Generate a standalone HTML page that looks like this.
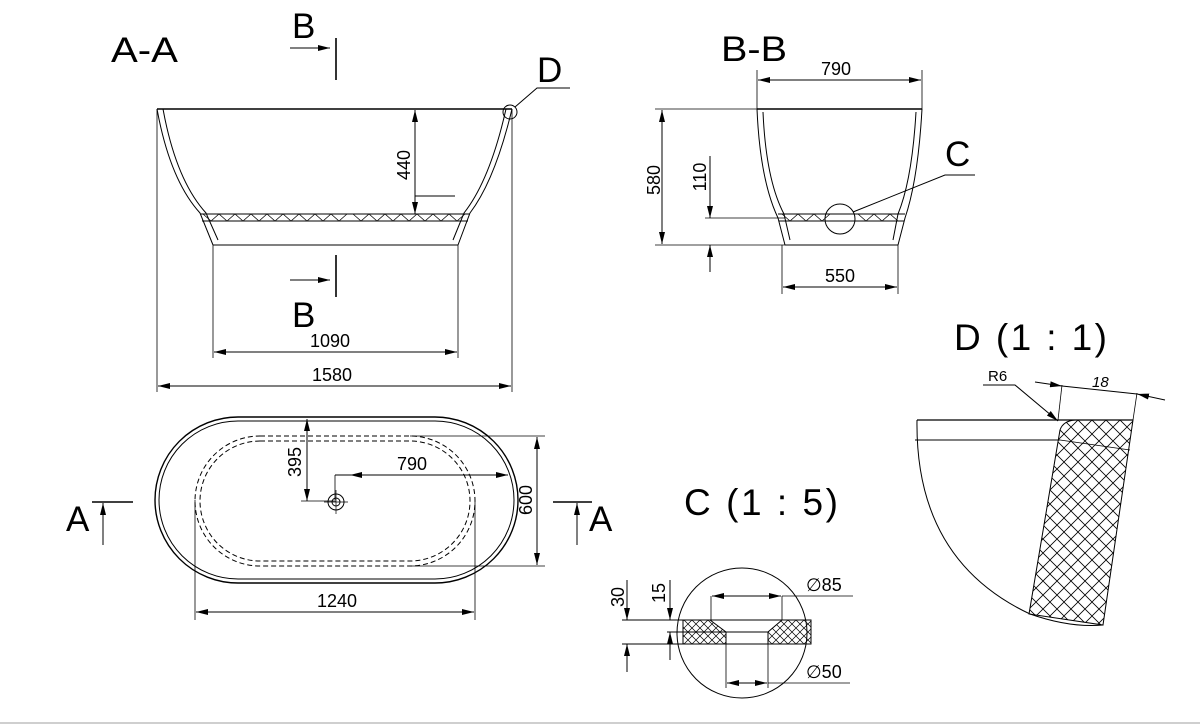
<!DOCTYPE html>
<html><head><meta charset="utf-8"><style>
html,body{margin:0;padding:0;background:#fff;}
svg{display:block;}
text{font-family:"Liberation Sans",sans-serif;fill:#000;}
</style></head><body>
<svg width="1200" height="724" viewBox="0 0 1200 724" xmlns="http://www.w3.org/2000/svg">
<defs>
<pattern id="hx" width="14" height="14" patternUnits="userSpaceOnUse">
<path d="M0,0L14,14M14,0L0,14" stroke="#000" stroke-width="0.8"/>
</pattern>
<pattern id="hs" width="8" height="8" patternUnits="userSpaceOnUse">
<path d="M0,0L8,8M8,0L0,8" stroke="#000" stroke-width="0.7"/>
</pattern>
<marker id="ar" viewBox="0 0 12 6" refX="12" refY="3" markerWidth="12" markerHeight="6" orient="auto-start-reverse" markerUnits="userSpaceOnUse">
<path d="M0,0L12,3L0,6z" fill="#000"/>
</marker>
</defs>
<rect x="0" y="722" width="1200" height="2" fill="#cfcfcf"/>
<g fill="none" stroke="#000" stroke-width="1">
<!-- A-A section -->
<line x1="157" y1="109" x2="512" y2="109" stroke-width="1.6"/>
<path d="M157,109 Q170,180 200,213 L213,245"/>
<path d="M163,109 Q176,180 206,213 L218,240"/>
<path d="M512,109 Q495,180 470,213 L458,245"/>
<path d="M506,109 Q490,180 464,213 L453,240"/>
<line x1="200" y1="214" x2="470" y2="214"/>
<line x1="202" y1="221" x2="468" y2="221"/>
<path d="M203,214 l8,7 l8,-7 l8,7 l8,-7 l8,7 l8,-7 l8,7 l8,-7 l8,7 l8,-7 l8,7 l8,-7 l8,7 l8,-7 l8,7 l8,-7 l8,7 l8,-7 M353,214 l8,7 l8,-7 l8,7 l8,-7 l8,7 l8,-7 l8,7 l8,-7 l8,7 l8,-7 l8,7 l8,-7 l8,7 l8,-7" stroke-width="0.7"/>
<line x1="213" y1="245" x2="458" y2="245"/>
<line x1="157" y1="109" x2="157" y2="392" stroke-width="0.8"/>
<line x1="512" y1="109" x2="512" y2="392" stroke-width="0.8"/>
<line x1="213" y1="245" x2="213" y2="358" stroke-width="0.8"/>
<line x1="458" y1="245" x2="458" y2="358" stroke-width="0.8"/>
<line x1="158" y1="386" x2="511" y2="386" marker-start="url(#ar)" marker-end="url(#ar)"/>
<line x1="214" y1="352" x2="457" y2="352" marker-start="url(#ar)" marker-end="url(#ar)"/>
<line x1="415" y1="110" x2="415" y2="214" marker-start="url(#ar)" marker-end="url(#ar)"/>
<line x1="415" y1="196" x2="455" y2="196"/>
<line x1="290" y1="48" x2="330" y2="48" marker-end="url(#ar)"/>
<line x1="336" y1="38" x2="336" y2="80" stroke-width="1.6"/>
<line x1="290" y1="280" x2="330" y2="280" marker-end="url(#ar)"/>
<line x1="336" y1="255" x2="336" y2="297" stroke-width="1.6"/>
<circle cx="510" cy="112" r="7"/>
<path d="M515,107 L537,88 L570,88"/>
<!-- B-B section -->
<line x1="757" y1="109" x2="922" y2="109" stroke-width="1.6"/>
<path d="M757,109 Q760,180 778,218 L785,245"/>
<path d="M763,112 Q766,180 784,214 L790,240"/>
<path d="M922,109 Q918,180 905,218 L898,245"/>
<path d="M916,112 Q912,180 898,214 L893,240"/>
<line x1="778" y1="214" x2="905" y2="214"/>
<line x1="779" y1="221" x2="904" y2="221"/>
<path d="M782,214 l8,7 l8,-7 l8,7 l8,-7 l8,7 l8,-7 M858,214 l8,7 l8,-7 l8,7 l8,-7 l8,7" stroke-width="0.7"/>
<line x1="785" y1="245" x2="898" y2="245"/>
<line x1="757" y1="70" x2="757" y2="109" stroke-width="0.8"/>
<line x1="922" y1="70" x2="922" y2="109" stroke-width="0.8"/>
<line x1="758" y1="80" x2="921" y2="80" marker-start="url(#ar)" marker-end="url(#ar)"/>
<line x1="655" y1="109" x2="757" y2="109" stroke-width="0.8"/>
<line x1="655" y1="245" x2="785" y2="245" stroke-width="0.8"/>
<line x1="662" y1="110" x2="662" y2="244" marker-start="url(#ar)" marker-end="url(#ar)"/>
<line x1="705" y1="218" x2="785" y2="218" stroke-width="0.8"/>
<line x1="710" y1="156" x2="710" y2="218" marker-end="url(#ar)"/>
<line x1="710" y1="272" x2="710" y2="245" marker-end="url(#ar)"/>
<line x1="782" y1="245" x2="782" y2="294" stroke-width="0.8"/>
<line x1="898" y1="245" x2="898" y2="294" stroke-width="0.8"/>
<line x1="783" y1="287" x2="897" y2="287" marker-start="url(#ar)" marker-end="url(#ar)"/>
<circle cx="840" cy="219" r="15"/>
<path d="M853,212 L945,175 L975,175"/>
<!-- Plan view -->
<rect x="155" y="417" width="363" height="166" rx="83" ry="83" stroke-width="1.4"/>
<rect x="159" y="421" width="355" height="158" rx="79" ry="79"/>
<rect x="195" y="436" width="280" height="130" rx="65" ry="65" stroke-dasharray="5,3"/>
<rect x="200" y="441" width="270" height="120" rx="60" ry="60" stroke-dasharray="5,3"/>
<circle cx="336" cy="502" r="8"/>
<circle cx="336" cy="502" r="4"/>
<line x1="324" y1="502" x2="348" y2="502" stroke-width="0.7"/>
<line x1="336" y1="490" x2="336" y2="514" stroke-width="0.7"/>
<line x1="307" y1="419" x2="307" y2="501" marker-start="url(#ar)" marker-end="url(#ar)"/>
<line x1="301" y1="501" x2="336" y2="501" stroke-width="0.8"/>
<line x1="335" y1="475" x2="335" y2="500" stroke-width="0.8"/>
<line x1="335" y1="475" x2="508" y2="475" marker-end="url(#ar)"/>
<line x1="350" y1="475" x2="356" y2="475" marker-start="url(#ar)"/>
<line x1="410" y1="436" x2="545" y2="436" stroke-width="0.8"/>
<line x1="410" y1="566" x2="545" y2="566" stroke-width="0.8"/>
<line x1="537" y1="437" x2="537" y2="565" marker-start="url(#ar)" marker-end="url(#ar)"/>
<line x1="195" y1="500" x2="195" y2="620" stroke-width="0.8"/>
<line x1="475" y1="500" x2="475" y2="620" stroke-width="0.8"/>
<line x1="196" y1="612" x2="474" y2="612" marker-start="url(#ar)" marker-end="url(#ar)"/>
<line x1="92" y1="502" x2="133" y2="502" stroke-width="1.4"/>
<line x1="103" y1="545" x2="103" y2="503" marker-end="url(#ar)"/>
<line x1="553" y1="502" x2="592" y2="502" stroke-width="1.4"/>
<line x1="577" y1="545" x2="577" y2="503" marker-end="url(#ar)"/>
<!-- C detail -->
<circle cx="742" cy="633" r="65"/>
<path d="M683,620 L710,620 L726,632 L726,644 L683,644 Z" fill="url(#hs)"/>
<path d="M811,620 L782,620 L768,632 L768,644 L811,644 Z" fill="url(#hs)"/>
<line x1="622" y1="620" x2="811" y2="620"/>
<line x1="622" y1="644" x2="811" y2="644"/>
<line x1="667" y1="632" x2="768" y2="632"/>
<line x1="711" y1="596" x2="711" y2="620" stroke-width="0.8"/>
<line x1="782" y1="596" x2="782" y2="620" stroke-width="0.8"/>
<line x1="712" y1="596" x2="781" y2="596" marker-start="url(#ar)" marker-end="url(#ar)"/>
<line x1="782" y1="596" x2="853" y2="596" stroke-width="0.8"/>
<line x1="726" y1="632" x2="726" y2="688" stroke-width="0.8"/>
<line x1="768" y1="632" x2="768" y2="688" stroke-width="0.8"/>
<line x1="727" y1="683" x2="767" y2="683" marker-start="url(#ar)" marker-end="url(#ar)"/>
<line x1="768" y1="683" x2="850" y2="683" stroke-width="0.8"/>
<line x1="627" y1="580" x2="627" y2="620" marker-end="url(#ar)"/>
<line x1="627" y1="672" x2="627" y2="644" marker-end="url(#ar)"/>
<line x1="670" y1="580" x2="670" y2="620" marker-end="url(#ar)"/>
<line x1="670" y1="660" x2="670" y2="632" marker-end="url(#ar)"/>
<!-- D detail -->
<path d="M917,420 Q915,560 1030,614 Q1070,628 1103,625"/>
<path d="M1060,430 Q1063,421 1075,420 L1133,420 L1103,625 L1029,614 Z" fill="url(#hx)"/>
<line x1="917" y1="420" x2="1133" y2="420" stroke-width="1.2"/>
<line x1="915" y1="440" x2="1060" y2="440"/>
<line x1="1060" y1="440" x2="1130" y2="450" stroke-width="0.8"/>
<path d="M983,385 L1015,385 L1058,421" marker-end="url(#ar)"/>
<line x1="1062" y1="385" x2="1058" y2="420" stroke-width="0.8"/>
<line x1="1137" y1="393" x2="1133" y2="420" stroke-width="0.8"/>
<line x1="1035" y1="382" x2="1062" y2="386" marker-end="url(#ar)"/>
<line x1="1165" y1="400" x2="1137" y2="394" marker-end="url(#ar)"/>
<line x1="1062" y1="386" x2="1137" y2="394"/>
</g>
<g font-size="35">
<text x="111" y="62" textLength="67" lengthAdjust="spacingAndGlyphs">A-A</text>
<text x="292" y="38">B</text>
<text x="292" y="327">B</text>
<text x="537" y="82">D</text>
<text x="721" y="61" textLength="66" lengthAdjust="spacingAndGlyphs">B-B</text>
<text x="945" y="166">C</text>
<text x="66" y="531">A</text>
<text x="589" y="531">A</text>
<text x="684" y="515" font-size="37" textLength="154" lengthAdjust="spacing">C  (1 : 5)</text>
<text x="954" y="350" font-size="37" textLength="153" lengthAdjust="spacing">D  (1 : 1)</text>
</g>
<g font-size="18" text-anchor="middle">
<text x="332" y="381">1580</text>
<text x="330" y="347">1090</text>
<text transform="translate(410,165) rotate(-90)">440</text>
<text x="836" y="75">790</text>
<text x="840" y="282">550</text>
<text transform="translate(660,180) rotate(-90)">580</text>
<text transform="translate(706,177) rotate(-90)">110</text>
<text transform="translate(301,462) rotate(-90)">395</text>
<text x="412" y="470">790</text>
<text transform="translate(532,500) rotate(-90)">600</text>
<text x="337" y="607">1240</text>
<text transform="translate(624,597) rotate(-90)">30</text>
<text transform="translate(665,593) rotate(-90)">15</text>
</g>
<g font-size="18">
<text x="806" y="591">∅85</text>
<text x="806" y="678">∅50</text>
<text x="988" y="381" font-size="15">R6</text>
<text x="1092" y="387" font-size="15" font-style="italic">18</text>
</g>
</svg>
</body></html>
